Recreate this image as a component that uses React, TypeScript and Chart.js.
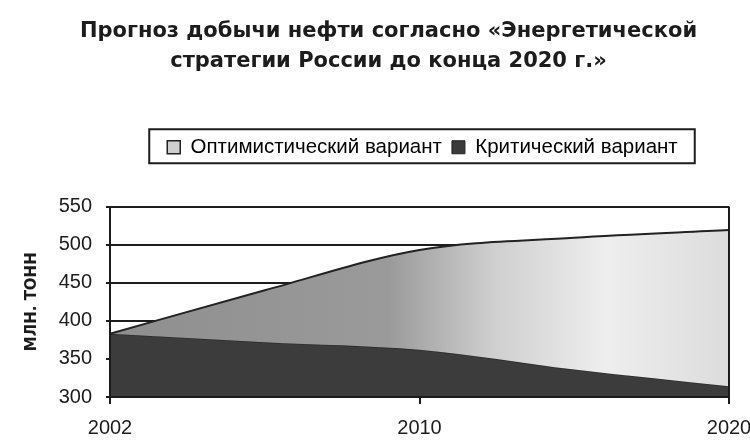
import { useEffect, useRef } from 'react';
import { Chart, registerables } from 'chart.js';

Chart.register(...registerables);

// Прогноз добычи нефти, млн. тонн
const years = ['2002', '2005', '2010', '2015', '2020'];
const xTickLabels = ['2002', '2010', '2020'];
const optimistic = [383, 440, 493, 509, 519];
const critical = [383, 372, 362, 336, 314];

const FONT = '"Liberation Sans", Arial, sans-serif';
const HEAVY = '"DejaVu Sans", "Liberation Sans", sans-serif';
const INK = '#1c1c1c';

// рамка вокруг легенды + сдвиг заголовка и легенды к центру области построения
const legendFrame = {
  id: 'legendFrame',
  afterLayout(chart: any) {
    const area = chart.chartArea;
    if (!area) return;
    const center = (area.left + area.right) / 2;
    const legend = chart.legend;
    if (legend) {
      const d = center + 3 - (legend.left + legend.right) / 2;
      legend.left += d;
      legend.right += d;
    }
    const title = chart.titleBlock;
    if (title) {
      const d = center - 31 - (title.left + title.right) / 2;
      title.left += d;
      title.right += d;
    }
  },
  afterDraw(chart: any) {
    const legend = chart.legend;
    if (!legend || !legend.legendHitBoxes?.length) return;
    const boxes = legend.legendHitBoxes;
    const left = Math.min(...boxes.map((b: any) => b.left)) - 18;
    const right = Math.max(...boxes.map((b: any) => b.left + b.width)) + 17;
    const mid = boxes[0].top + boxes[0].height / 2;
    const ctx = chart.ctx;
    ctx.save();
    ctx.strokeStyle = INK;
    ctx.lineWidth = 2;
    ctx.strokeRect(left, mid - 18, right - left, 34);
    ctx.restore();
  },
};

export default function App() {
  const canvasRef = useRef<HTMLCanvasElement>(null);

  useEffect(() => {
    document.body.style.margin = '0';
    if (!canvasRef.current) return;

    const chart = new Chart(canvasRef.current, {
      type: 'line',
      data: {
        labels: years,
        datasets: [
          {
            label: 'Оптимистический вариант',
            data: optimistic,
            xAxisID: 'x',
            borderColor: '#222',
            borderWidth: 2,
            pointRadius: 0,
            cubicInterpolationMode: 'monotone',
            fill: '+1',
            backgroundColor: (c: any) => {
              const area = c.chart.chartArea;
              if (!area) return '#a8a8a8';
              const g = c.chart.ctx.createLinearGradient(area.left, 0, area.right, 0);
              g.addColorStop(0, '#8e8e8e');
              g.addColorStop(0.45, '#9a9a9a');
              g.addColorStop(0.62, '#cfcfcf');
              g.addColorStop(0.8, '#eeeeee');
              g.addColorStop(1, '#dcdcdc');
              return g;
            },
          },
          {
            label: 'Критический вариант',
            data: critical,
            xAxisID: 'x',
            borderColor: '#2a2a2a',
            borderWidth: 1.5,
            pointRadius: 0,
            cubicInterpolationMode: 'monotone',
            fill: 'origin',
            backgroundColor: '#3c3c3c',
          },
        ],
      },
      options: {
        responsive: true,
        maintainAspectRatio: false,
        animation: false,
        layout: { padding: { left: 0, right: 0, top: 0, bottom: 0 } },
        plugins: {
          tooltip: { enabled: false },
          title: {
            display: true,
            text: ['Прогноз добычи нефти согласно «Энергетической', 'стратегии России до конца 2020 г.»'],
            color: INK,
            font: { family: HEAVY, size: 21, weight: 'bold', lineHeight: '30px' },
            padding: { top: 17, bottom: 50 },
          },
          legend: {
            position: 'top',
            labels: {
              color: INK,
              font: { family: FONT, size: 20.5 },
              boxWidth: 13,
              boxHeight: 13,
              padding: 10,
              generateLabels: () => [
                { text: 'Оптимистический вариант', fillStyle: '#cfcfcf', strokeStyle: '#222', lineWidth: 1.5, datasetIndex: 0, hidden: false },
                { text: 'Критический вариант', fillStyle: '#3a3a3a', strokeStyle: '#222', lineWidth: 1, datasetIndex: 1, hidden: false },
              ],
            },
          },
        },
        scales: {
          x: {
            type: 'category',
            position: 'bottom',
            afterFit: (s: any) => {
              s.height = 50;
              s.paddingRight = 21;
            },
            grid: {
              z: 1,
              drawOnChartArea: true,
              color: (c: any) => (c.index === years.length - 1 ? INK : 'rgba(0,0,0,0)'),
              tickColor: (c: any) => (xTickLabels.includes(years[c.index]) ? INK : 'rgba(0,0,0,0)'),
              lineWidth: 2,
              tickLength: 7,
            },
            border: { display: true, color: INK, width: 2, z: 1 },
            ticks: {
              autoSkip: false,
              maxRotation: 0,
              color: INK,
              padding: 12,
              font: { family: FONT, size: 20 },
              callback: (_v: any, i: number) => (xTickLabels.includes(years[i]) ? years[i] : ''),
            },
          },
          spacer: {
            type: 'category',
            position: 'top',
            display: true,
            afterFit: (s: any) => {
              s.height = 39;
              s.paddingRight = 0;
              s.paddingLeft = 0;
            },
            grid: { display: false },
            border: { display: false },
            ticks: { display: false },
          },
          y: {
            min: 300,
            max: 550,
            afterFit: (s: any) => {
              s.width = 110;
            },
            ticks: {
              stepSize: 50,
              color: INK,
              padding: 14,
              font: { family: FONT, size: 20 },
            },
            grid: { color: INK, lineWidth: 2, tickLength: 4 },
            border: { display: true, color: INK, width: 2, z: 1 },
            title: {
              display: true,
              text: 'МЛН. ТОНН',
              color: INK,
              font: { family: HEAVY, size: 15, weight: 'bold' },
              padding: { top: 23, bottom: 0 },
            },
          },
        },
      },
      plugins: [legendFrame],
    });

    return () => chart.destroy();
  }, []);

  return (
    <div style={{ position: 'relative', width: 750, height: 447, background: '#fff' }}>
      <canvas ref={canvasRef} />
    </div>
  );
}
